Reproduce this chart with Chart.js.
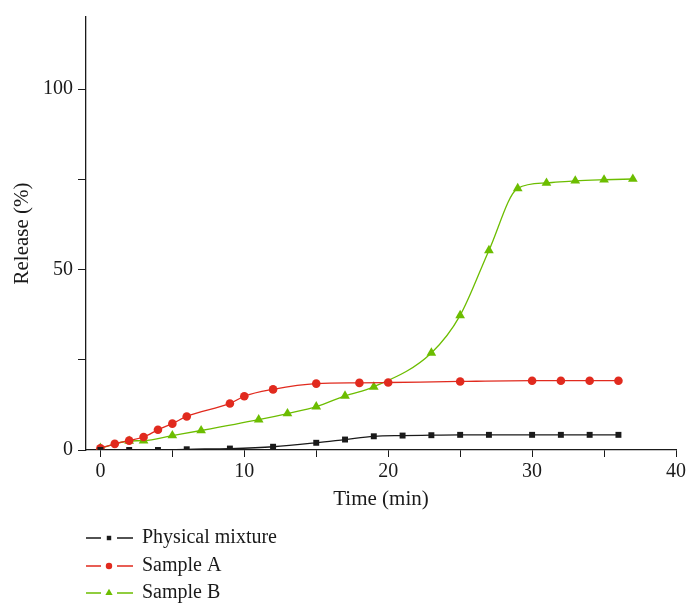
<!DOCTYPE html>
<html>
<head>
<meta charset="utf-8">
<script src="https://cdn.jsdelivr.net/npm/chart.js@4"></script>
<style>
  html, body { margin: 0; padding: 0; background: #fff; }
  #wrap { width: 689px; height: 603px; position: relative; }
</style>
</head>
<body>
<div id="wrap"><canvas id="myChart" width="689" height="603"></canvas></div>
<script>
'use strict';

// Data
let mixTime = [0, 2, 4, 6, 9, 12, 15, 17, 19, 21, 23, 25, 27, 30, 32, 34, 36];
let mixRelease = [0, 0, 0, 0.2, 0.4, 0.9, 2.0, 2.9, 3.8, 4.0, 4.1, 4.2, 4.2, 4.2, 4.2, 4.2, 4.2];

let aTime = [0, 1, 2, 3, 4, 5, 6, 9, 10, 12, 15, 18, 20, 25, 30, 32, 34, 36];
let aRelease = [0.5, 1.7, 2.6, 3.6, 5.6, 7.3, 9.3, 12.9, 14.9, 16.8, 18.4, 18.6, 18.7, 19.0, 19.2, 19.2, 19.2, 19.2];

let bTime = [0, 2, 3, 5, 7, 11, 13, 15, 17, 19, 23, 25, 27, 29, 31, 33, 35, 37];
let bRelease = [0.5, 2.5, 2.6, 4.0, 5.4, 8.4, 10.1, 12.0, 15.0, 17.5, 26.9, 37.3, 55.3, 72.5, 74.0, 74.6, 74.9, 75.1];

let seriesNames = ['Physical mixture', 'Sample A', 'Sample B'];
let xTicks = [0, 5, 10, 15, 20, 25, 30, 35, 40];
let yTicks = [0, 25, 50, 75, 100];

const FONT = '"Liberation Serif", "DejaVu Serif", serif';

function toPoints(xs, ys) {
  let pts = [];
  for (let i = 0; i < xs.length; i++) {
    pts.push({ x: xs[i], y: ys[i] });
  }
  return pts;
}

function makeSet(name, xs, ys, color, style, radius) {
  return {
    label: name,
    data: toPoints(xs, ys),
    borderColor: color,
    backgroundColor: color,
    borderWidth: 1.3,
    pointStyle: style,
    pointRadius: radius,
    pointBorderWidth: 0,
    pointHoverRadius: radius,
    cubicInterpolationMode: 'monotone',
    fill: false
  };
}

// Draws the legend as a column below the plot, like the original
const columnLegend = {
  id: 'columnLegend',
  afterDraw(chart) {
    const ctx = chart.ctx;
    const rows = [538, 566, 593];
    ctx.save();
    chart.data.datasets.forEach(function(ds, i) {
      let y = rows[i];
      ctx.strokeStyle = ds.borderColor;
      ctx.lineWidth = 1.3;
      ctx.beginPath();
      ctx.moveTo(86, y);
      ctx.lineTo(101, y);
      ctx.moveTo(117, y);
      ctx.lineTo(133, y);
      ctx.stroke();
      ctx.fillStyle = ds.backgroundColor;
      Chart.helpers.drawPoint(ctx, {
        pointStyle: ds.pointStyle,
        radius: ds.pointRadius * 0.75,
        borderWidth: 0,
        rotation: 0
      }, 109, y);
      ctx.fillStyle = '#1a1a1a';
      ctx.font = '20px ' + FONT;
      ctx.textBaseline = 'middle';
      ctx.textAlign = 'left';
      ctx.fillText(ds.label, 142, y);
    });
    ctx.restore();
  }
};

const ctx = document.getElementById('myChart').getContext('2d');

let options = {
  type: 'line',
  data: {
    datasets: [
      makeSet(seriesNames[0], mixTime, mixRelease, '#1a1a1a', 'rect', 4.2),
      makeSet(seriesNames[1], aTime, aRelease, '#e12a1e', 'circle', 4.3),
      makeSet(seriesNames[2], bTime, bRelease, '#6cbd00', 'triangle', 5.6)
    ]
  },
  options: {
    responsive: false,
    animation: false,
    layout: { padding: { top: 12, right: 9, left: 0, bottom: 91 } },
    plugins: {
      legend: { display: false },
      tooltip: { enabled: false }
    },
    scales: {
      x: {
        type: 'linear',
        min: -1,
        max: 40,
        afterBuildTicks: function(scale) {
          scale.ticks = xTicks.map(function(v) { return { value: v }; });
        },
        afterFit: function(scale) { scale.height = 62; },
        grid: {
          drawOnChartArea: false,
          tickLength: 7,
          tickColor: '#1a1a1a',
          tickWidth: 1
        },
        border: { color: '#1a1a1a', width: 1.3 },
        ticks: {
          color: '#1a1a1a',
          font: { family: FONT, size: 20 },
          padding: 3,
          maxRotation: 0,
          callback: function(v) { return v % 10 === 0 ? v : ''; }
        },
        title: {
          display: true,
          text: 'Time (min)',
          color: '#1a1a1a',
          font: { family: FONT, size: 21 },
          padding: { top: 0, bottom: 0 }
        }
      },
      y: {
        type: 'linear',
        min: 0,
        max: 120,
        afterBuildTicks: function(scale) {
          scale.ticks = yTicks.map(function(v) { return { value: v }; });
        },
        afterFit: function(scale) { scale.width = 86; },
        grid: {
          drawOnChartArea: false,
          tickLength: 8,
          tickColor: '#1a1a1a',
          tickWidth: 1
        },
        border: { color: '#1a1a1a', width: 1.3 },
        ticks: {
          color: '#1a1a1a',
          font: { family: FONT, size: 20 },
          padding: 5,
          callback: function(v) { return v % 50 === 0 ? v : ''; }
        },
        title: {
          display: true,
          text: 'Release (%)',
          color: '#1a1a1a',
          font: { family: FONT, size: 21 },
          padding: { top: 10, bottom: 0 }
        }
      }
    }
  },
  plugins: [columnLegend]
};

const myChart = new Chart(ctx, options);
</script>
</body>
</html>
